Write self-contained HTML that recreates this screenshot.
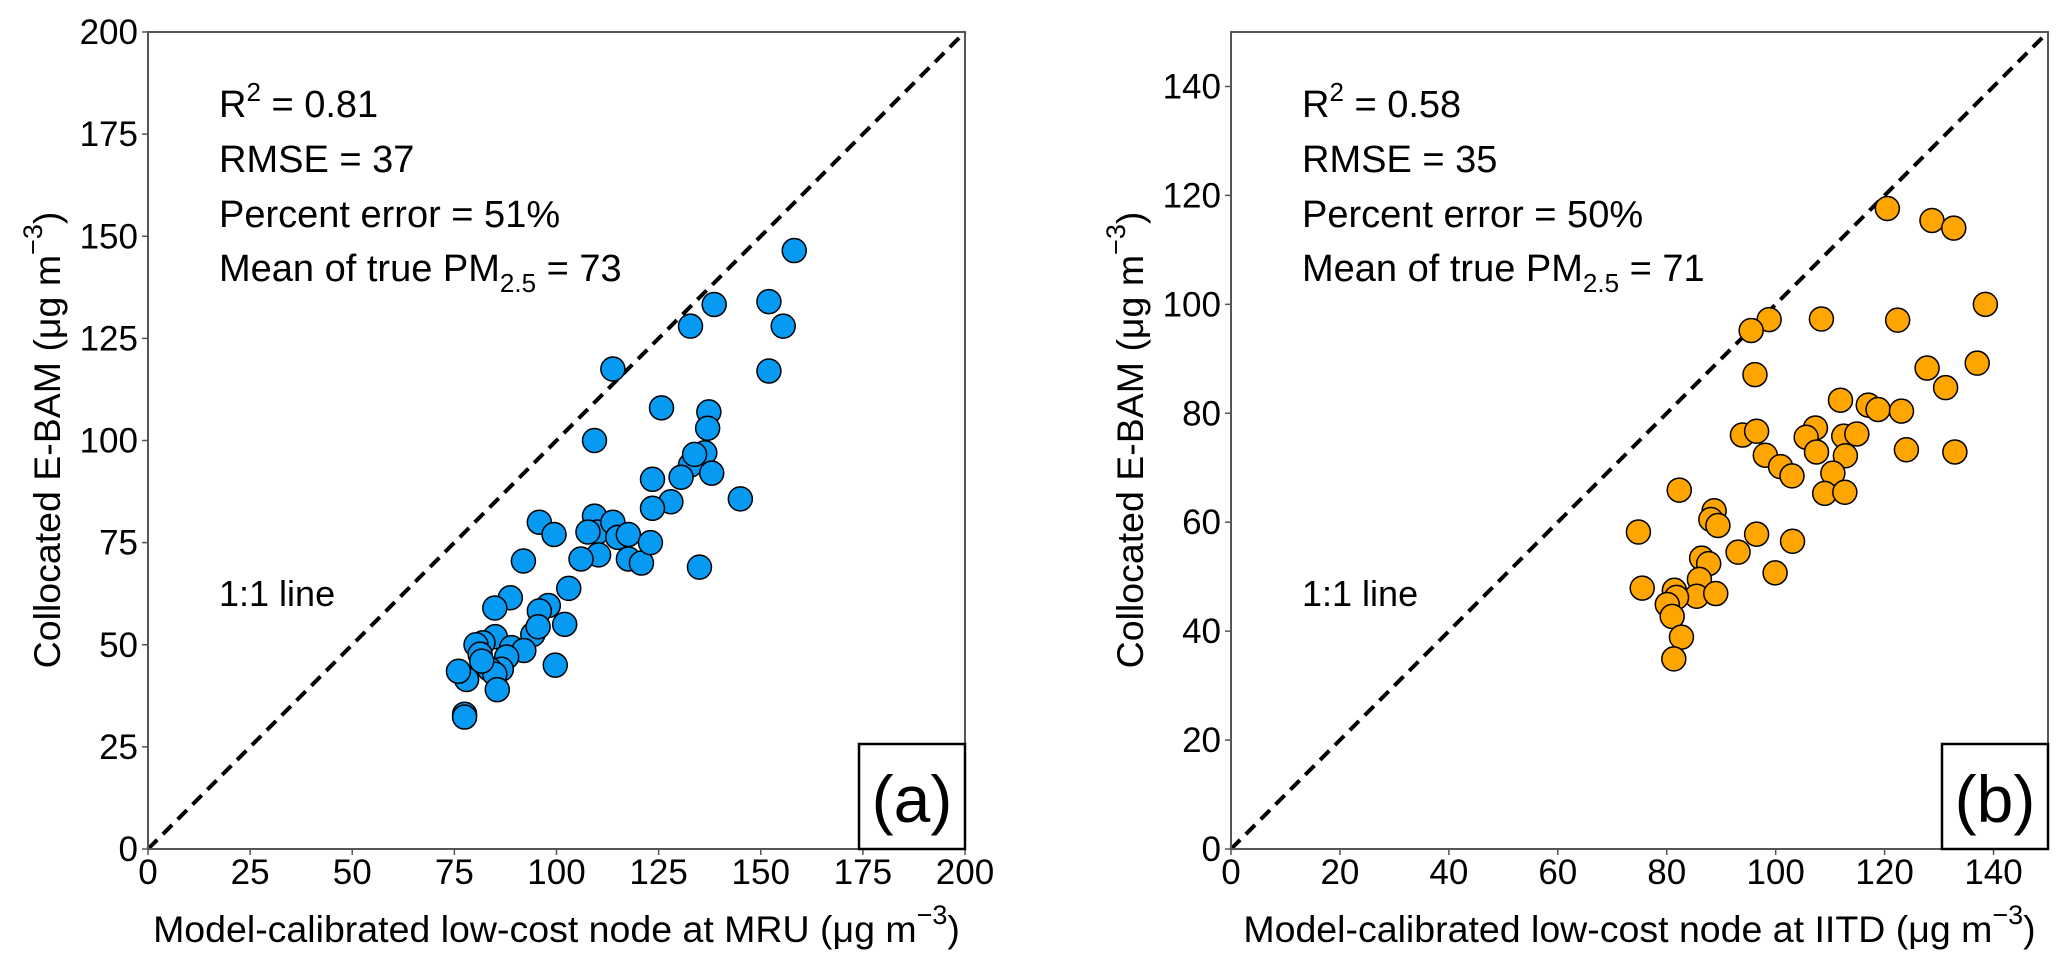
<!DOCTYPE html>
<html><head><meta charset="utf-8"><style>
html,body{margin:0;padding:0;background:#fff}
svg{display:block;font-family:"Liberation Sans",Arial,sans-serif}
</style></head><body>
<svg id="fig" width="2067" height="968" viewBox="0 0 2067 968" xmlns="http://www.w3.org/2000/svg"></svg>
<script>
const aX=[158.2,152,155.5,152,138.6,132.8,113.8,125.7,109.3,137.3,137,132.8,130.5,136.3,133.8,138,123.5,128,145,123.5,135,109.3,110,107.7,113.8,115,117.6,117.6,120.8,123,110.3,106,95.8,99.4,91.9,103,102,98,95.8,94.2,95.5,88.7,84.9,85,82,80.3,81.3,89,92,87.8,86.5,83.6,84.9,78,76,85.5,99.7,77.5,77.5,81.7];
const aY=[146.5,134,128,117,133.3,128,117.5,108,100,107,103,94,91,97,96.6,92,90.5,85,85.7,83.4,69,81.5,77.6,77.6,80,76.3,77,71,70,75,72,71,80,77,70.5,63.8,55,59.6,58.3,52.5,54.4,61.5,59,52,50.5,50,47.7,49.3,48.6,47,44,44,42.8,41.5,43.5,39,45,33,32.3,46];
const bX=[120.5,128.7,132.7,138.5,98.8,95.5,108.4,122.4,96.2,127.8,137,131.2,111.9,117,118.8,123.1,107.3,93.9,96.5,105.6,112.5,114.9,124,132.9,107.5,112.8,98.1,100.9,103,110.5,109,112.7,82.3,88.7,88.1,89.4,74.8,96.5,103.1,93.1,86.4,87.7,99.9,86,75.5,81.4,85.5,89,81.8,80.1,81,82.7,81.3];
const bY=[117.6,115.4,114,100,97.2,95.2,97.3,97.1,87.1,88.3,89.2,84.7,82.4,81.5,80.7,80.4,77.3,76,76.7,75.6,75.8,76.2,73.3,72.9,72.9,72.2,72.3,70.2,68.5,69,65.3,65.5,65.9,62.1,60.5,59.4,58.2,57.8,56.5,54.5,53.4,52.4,50.7,49.5,47.9,47.5,46.4,46.9,46.2,44.9,42.7,38.9,34.9];
const aTicks=[0,25,50,75,100,125,150,175,200];
const bTicks=[0,20,40,60,80,100,120,140];
const NS="http://www.w3.org/2000/svg";
const svg=document.getElementById('fig');
function mk(t,at,parent){const e=document.createElementNS(NS,t);for(const k in at)e.setAttribute(k,at[k]);(parent||svg).appendChild(e);return e;}
function panel(o){
  const g=mk('g',{});
  
  
  const L=o.left,R=o.left+817,T=32,B=849;
  const sx=v=>L+(v/o.max)*(R-L), sy=v=>B-(v/o.max)*(B-T);
  o.ticks.forEach(t=>{
    const tx=mk('line',{x1:sx(t),x2:sx(t),y1:B,y2:B+6,stroke:'#555','stroke-width':1.5},g);
    
    
    const lx=mk('text',{x:sx(t),y:884,'font-size':35,'text-anchor':'middle',fill:'#000'},g);lx.textContent=t;
    
    
    const ty=mk('line',{x1:L-6,x2:L,y1:sy(t),y2:sy(t),stroke:'#555','stroke-width':1.5},g);
    
    
    const ly=mk('text',{x:L-10,y:sy(t)+12,'font-size':35,'text-anchor':'end',fill:'#000'},g);ly.textContent=t;
    
    
  });
  const d=mk('line',{x1:sx(0),y1:sy(0),x2:sx(o.max),y2:sy(o.max),stroke:'#000','stroke-width':4,'stroke-dasharray':'13 8'},g);
  
  
  o.xs.forEach((x,i)=>{
    const c=mk('circle',{cx:sx(x),cy:sy(o.ys[i]),r:12,fill:o.color,stroke:'#000','stroke-width':1.5},g);
    
    
  });
  const f=mk('rect',{x:L,y:T,width:R-L,height:B-T,fill:'none',stroke:'#555','stroke-width':2},g);
  
  
  const tx=L+71;
  const s1=mk('text',{x:tx,y:117,'font-size':38},g);
  s1.innerHTML='R<tspan dy="-16" font-size="26">2</tspan><tspan dy="16"> = '+o.r2+'</tspan>';
  
  
  const s2=mk('text',{x:tx,y:172,'font-size':38},g);s2.textContent='RMSE = '+o.rmse;
  
  
  const s3=mk('text',{x:tx,y:227,'font-size':38},g);s3.textContent='Percent error = '+o.pe+'%';
  
  
  const s4=mk('text',{x:tx,y:281,'font-size':38},g);
  s4.innerHTML='Mean of true PM<tspan dy="11" font-size="26">2.5</tspan><tspan dy="-11"> = '+o.mean+'</tspan>';
  
  
  const s5=mk('text',{x:tx,y:606,'font-size':36},g);s5.textContent='1:1 line';
  
  
  const bx=mk('rect',{x:R-106,y:744,width:106,height:105,fill:'#fff',stroke:'#000','stroke-width':2.5},g);
  
  
  const bl=mk('text',{x:R-53,y:822,'font-size':66,'text-anchor':'middle'},g);bl.textContent=o.label;
  
  
  const xt=mk('text',{x:(L+R)/2,y:942,'font-size':37.5,'text-anchor':'middle'},g);
  xt.innerHTML=o.xtitle+' (μg m<tspan dy="-18" font-size="27">−3</tspan><tspan dy="18">)</tspan>';
  
  
  const yt=mk('text',{x:0,y:0,'font-size':37.5,'text-anchor':'middle',transform:'translate('+(o.left-88)+',440) rotate(-90)'},g);
  yt.innerHTML='Collocated E-BAM (μg m<tspan dy="-18" font-size="27">−3</tspan><tspan dy="18">)</tspan>';
  
  
}
panel({id:'mru',left:148,max:200,ticks:aTicks,xs:aX,ys:aY,color:'#069af3',r2:'0.81',rmse:37,pe:51,mean:73,label:'(a)',xtitle:'Model-calibrated low-cost node at MRU'});
panel({id:'iitd',left:1231,max:150,ticks:bTicks,xs:bX,ys:bY,color:'#ffa500',r2:'0.58',rmse:35,pe:50,mean:71,label:'(b)',xtitle:'Model-calibrated low-cost node at IITD'});
</script>
</body></html>
